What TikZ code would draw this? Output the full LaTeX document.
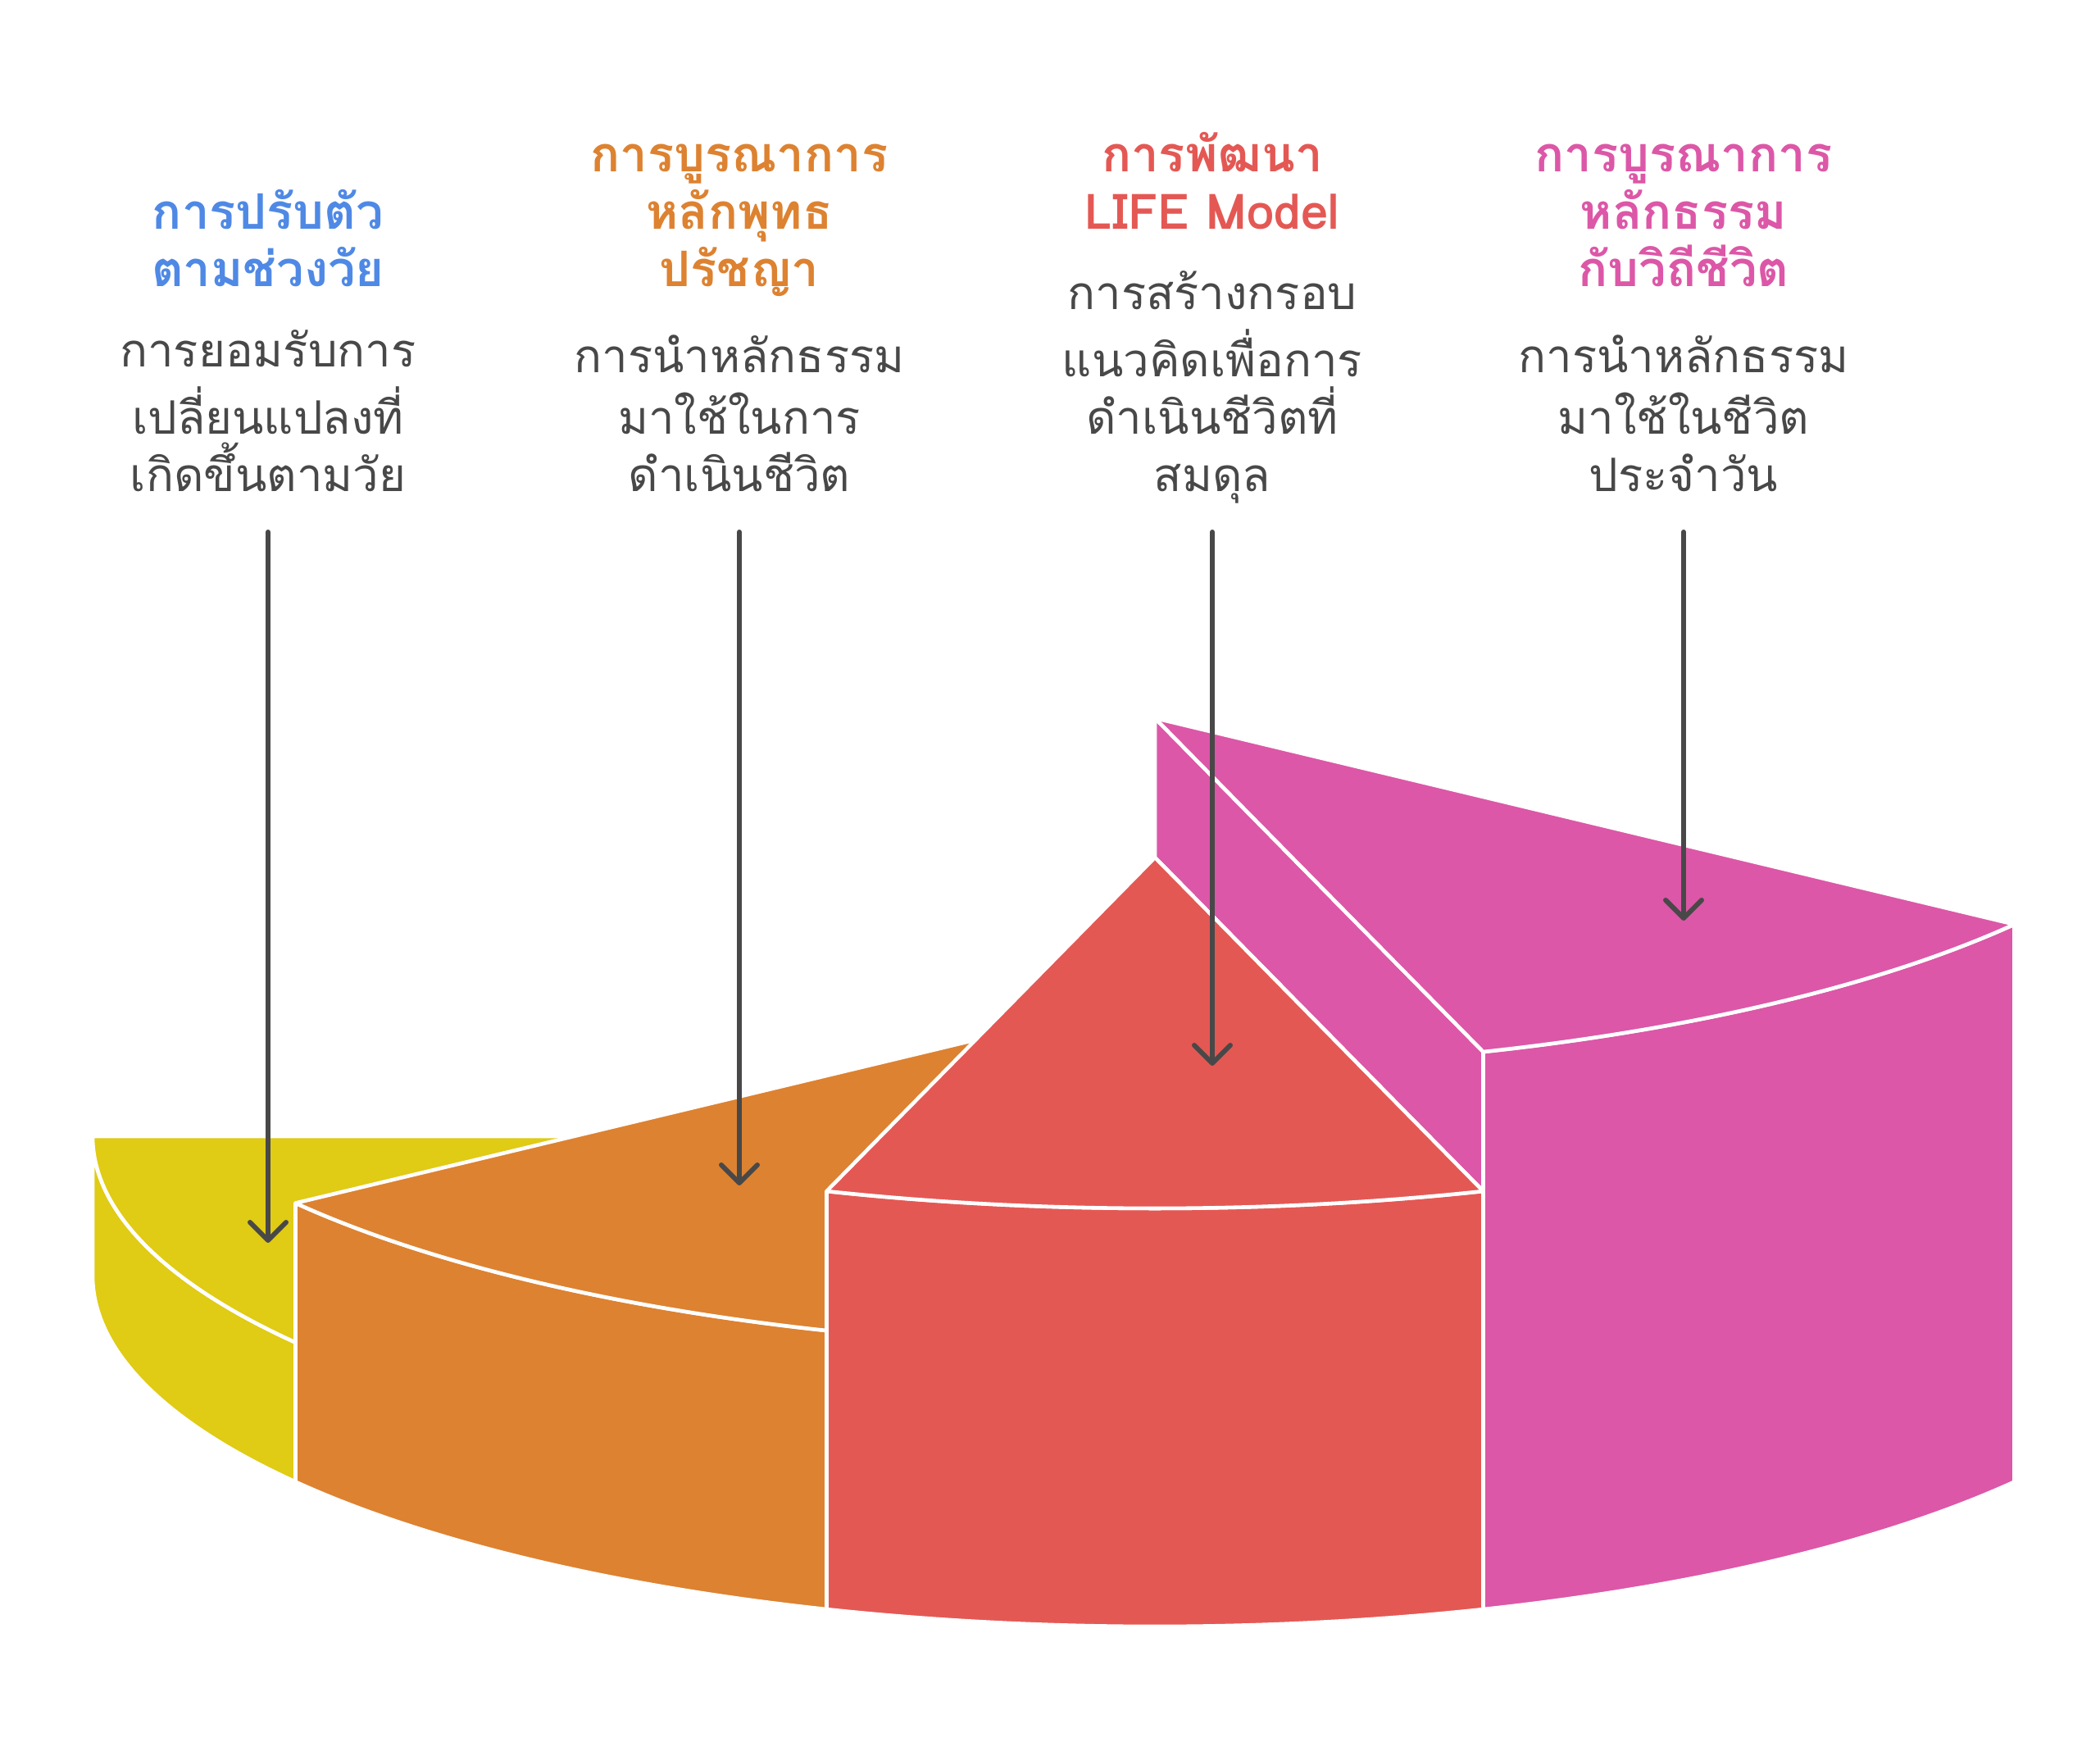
\documentclass[tikz,border=0pt]{standalone}
\usepackage{fontspec}
\newfontfamily\thaifont[Script=Thai]{Loma}
\usetikzlibrary{arrows.meta}
\definecolor{sliceY}{HTML}{E0CB15}
\definecolor{sliceO}{HTML}{DD8231}
\definecolor{sliceR}{HTML}{E45854}
\definecolor{sliceP}{HTML}{DC57A7}
\definecolor{headB}{HTML}{4F89E5}
\definecolor{textgray}{HTML}{484848}
\tikzset{
    pointer/.style = {line width=1.7pt,draw=textgray,line cap=round,shorten <=0.28cm,
                      -{Straight Barb[length=2.2mm,width=4.4mm,line cap=round,line join=round]}},
    ell/.style = {x radius=12.96, y radius=4.28},
    facey/.style = {fill=sliceY,draw=white,line width=1.3pt,line join=round},
    faceo/.style = {fill=sliceO,draw=white,line width=1.3pt,line join=round},
    facer/.style = {fill=sliceR,draw=white,line width=1.3pt,line join=round},
    facep/.style = {fill=sliceP,draw=white,line width=1.3pt,line join=round},
    head/.style = {align=center,inner sep=0pt,anchor=south,font=\thaifont\bfseries\fontsize{17}{19.9}\selectfont},
    headb/.style = {head,text=headB},
    heado/.style = {head,text=sliceO},
    headr/.style = {head,text=sliceR},
    headp/.style = {head,text=sliceP},
    desc/.style = {align=center,inner sep=0pt,anchor=south,text=textgray,font=\thaifont\fontsize{16}{19.9}\selectfont}
}
\begin{document}
\begin{tikzpicture}
\useasboundingbox (0,0) rectangle (25.62,21.31);
%
\coordinate (c) at (14.09, 5.75);
% yellow slice
\draw[facey] (c) ++(-144:12.96 and 4.28) arc[ell, start angle=-144, end angle=-180] -- ++(0,1.70) arc[ell, start angle=-180, end angle=-144] -- cycle;
\draw[facey] ([yshift=1.70cm]c) -- ++(-144:12.96 and 4.28) arc[ell, start angle=-144, end angle=-180] -- cycle;
% orange slice
\draw[faceo] (c) ++(-108:12.96 and 4.28) arc[ell, start angle=-108, end angle=-144] -- ++(0,3.40) arc[ell, start angle=-144, end angle=-108] -- cycle;
\draw[faceo] ([yshift=3.40cm]c) -- ++(-108:12.96 and 4.28) arc[ell, start angle=-108, end angle=-144] -- cycle;
% pink slice
\draw[facep] ([yshift=6.80cm]c) -- ++(-72:12.96 and 4.28) -- ++(0,-1.70) -- ([yshift=5.10cm]c) -- cycle;
\draw[facep] (c) ++(-36:12.96 and 4.28) arc[ell, start angle=-36, end angle=-72] -- ++(0,6.80) arc[ell, start angle=-72, end angle=-36] -- cycle;
\draw[facep] ([yshift=6.80cm]c) -- ++(-36:12.96 and 4.28) arc[ell, start angle=-36, end angle=-72] -- cycle;
% red slice
\draw[facer] (c) ++(-72:12.96 and 4.28) arc[ell, start angle=-72, end angle=-108] -- ++(0,5.10) arc[ell, start angle=-108, end angle=-72] -- cycle;
\draw[facer] ([yshift=5.10cm]c) -- ++(-72:12.96 and 4.28) arc[ell, start angle=-72, end angle=-108] -- cycle;
%
\node[headb] at (3.27, 17.60) (hy) {การปรับตัว\\ตามช่วงวัย\strut};
\node[desc] at (3.27, 15.10) (dy) {\strut การยอมรับการ\\เปลี่ยนแปลงที่\\เกิดขึ้นตามวัย\strut};
\node[heado] at (9.02, 17.60) (ho) {การบูรณาการ\\หลักพุทธ\\ปรัชญา\strut};
\node[desc] at (9.02, 15.10) (do) {\strut การนำหลักธรรม\\มาใช้ในการ\\ดำเนินชีวิต\strut};
\node[headr] at (14.79, 18.30) (hr) {การพัฒนา\\LIFE Model\strut};
\node[desc] at (14.79, 15.10) (dr) {\strut การสร้างกรอบ\\แนวคิดเพื่อการ\\ดำเนินชีวิตที่\\สมดุล\strut};
\node[headp] at (20.54, 17.60) (hp) {การบูรณาการ\\หลักธรรม\\กับวิถีชีวิต\strut};
\node[desc] at (20.54, 15.10) (dp) {\strut การนำหลักธรรม\\มาใช้ในชีวิต\\ประจำวัน\strut};
%
\coordinate (ty) at (3.27, 6.15);
\coordinate (to) at (9.02, 6.85);
\coordinate (tr) at (14.79, 8.31);
\coordinate (tp) at (20.54, 10.08);
%
\draw[pointer] (dy) -- (ty);
\draw[pointer] (do) -- (to);
\draw[pointer] (dr) -- (tr);
\draw[pointer] (dp) -- (tp);

\end{tikzpicture}
\end{document}
